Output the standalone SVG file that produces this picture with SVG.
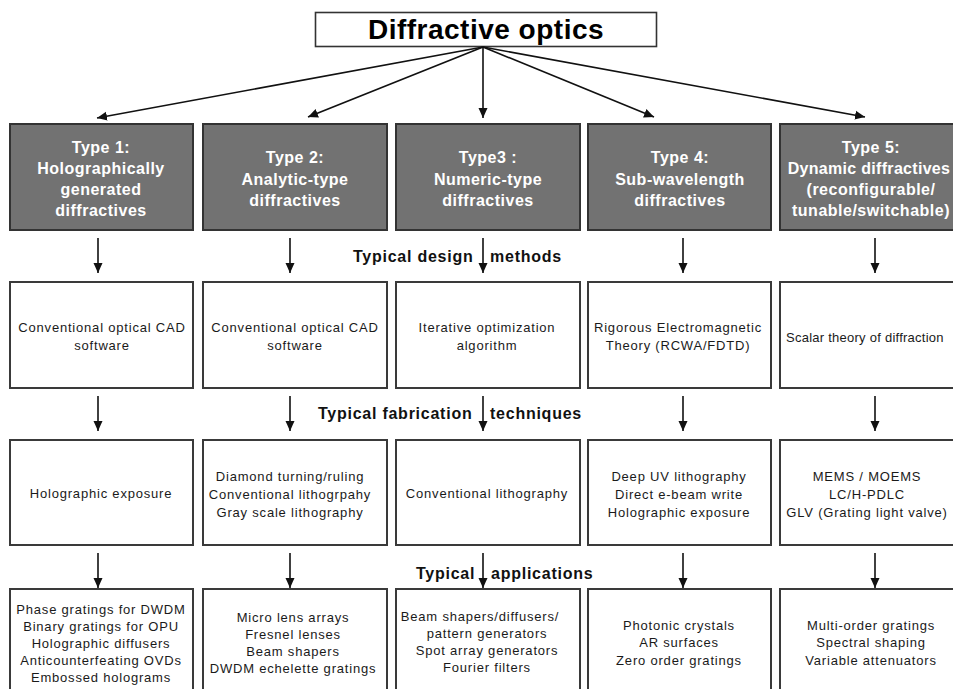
<svg xmlns="http://www.w3.org/2000/svg" width="953" height="689" viewBox="0 0 953 689">
<defs>
<marker id="ah" markerUnits="userSpaceOnUse" markerWidth="10" markerHeight="10" refX="10" refY="4.5" orient="auto" viewBox="0 0 10 9">
<path d="M0,0 L10,4.5 L0,9 z" fill="#111"/>
</marker>
</defs>
<style>
.gb{fill:#727272;stroke:#333;stroke-width:2}
.wb{fill:#fff;stroke:#3a3a3a;stroke-width:2}
.gt{font-family:"Liberation Sans",Arial,sans-serif;font-weight:bold;font-size:16px;letter-spacing:0.5px;fill:#fff;text-anchor:middle}
.wt{font-family:"Liberation Sans",Arial,sans-serif;font-size:13px;letter-spacing:0.8px;fill:#1a1a1a;text-anchor:middle}
.lb{font-family:"Liberation Sans",Arial,sans-serif;font-weight:bold;font-size:16px;letter-spacing:0.75px;fill:#111}
.ttl{font-family:"Liberation Sans",Arial,sans-serif;font-weight:bold;font-size:28px;letter-spacing:0.5px;fill:#000;text-anchor:middle}
.c{stroke:#111;stroke-width:1.6;fill:none;marker-end:url(#ah)}
</style>
<rect width="953" height="689" fill="#fff"/>

<g id="title">
<rect x="315.5" y="12.5" width="341" height="34" fill="#fff" stroke="#333" stroke-width="1.6"/>
<text class="ttl" x="486" y="39">Diffractive optics</text>
</g>

<g id="type1">
<rect class="gb" x="10" y="124" width="183" height="106"/>
<text class="gt" x="101" y="153">Type 1:</text>
<text class="gt" x="101" y="174">Holographically</text>
<text class="gt" x="101" y="195">generated</text>
<text class="gt" x="101" y="216">diffractives</text>
</g>
<g id="type2">
<rect class="gb" x="203" y="124" width="184" height="106"/>
<text class="gt" x="295" y="163">Type 2:</text>
<text class="gt" x="295" y="185">Analytic-type</text>
<text class="gt" x="295" y="206">diffractives</text>
</g>
<g id="type3">
<rect class="gb" x="396" y="124" width="184" height="106"/>
<text class="gt" x="488" y="163">Type3 :</text>
<text class="gt" x="488" y="185">Numeric-type</text>
<text class="gt" x="488" y="206">diffractives</text>
</g>
<g id="type4">
<rect class="gb" x="588" y="124" width="183" height="106"/>
<text class="gt" x="680" y="163">Type 4:</text>
<text class="gt" x="680" y="185">Sub-wavelength</text>
<text class="gt" x="680" y="206">diffractives</text>
</g>
<g id="type5">
<rect class="gb" x="780" y="124" width="190" height="106"/>
<text class="gt" x="871" y="153">Type 5:</text>
<text class="gt" x="869" y="174" style="letter-spacing:0.3px">Dynamic diffractives</text>
<text class="gt" x="871" y="195">(reconfigurable/</text>
<text class="gt" x="871" y="216">tunable/switchable)</text>
</g>

<g id="design1">
<rect class="wb" x="10" y="282" width="183" height="106"/>
<text class="wt" x="102" y="332">Conventional optical CAD</text>
<text class="wt" x="102" y="350">software</text>
</g>
<g id="design2">
<rect class="wb" x="203" y="282" width="184" height="106"/>
<text class="wt" x="295" y="332">Conventional optical CAD</text>
<text class="wt" x="295" y="350">software</text>
</g>
<g id="design3">
<rect class="wb" x="396" y="282" width="184" height="106"/>
<text class="wt" x="487" y="332">Iterative optimization</text>
<text class="wt" x="487" y="350">algorithm</text>
</g>
<g id="design4">
<rect class="wb" x="588" y="282" width="183" height="106"/>
<text class="wt" x="678" y="332">Rigorous Electromagnetic</text>
<text class="wt" x="678" y="350">Theory (RCWA/FDTD)</text>
</g>
<g id="design5">
<rect class="wb" x="780" y="282" width="190" height="106"/>
<text class="wt" x="786" y="342" style="text-anchor:start;letter-spacing:0.25px">Scalar theory of diffraction</text>
</g>

<g id="fab1">
<rect class="wb" x="10" y="440" width="183" height="105"/>
<text class="wt" x="101" y="498">Holographic exposure</text>
</g>
<g id="fab2">
<rect class="wb" x="203" y="440" width="184" height="105"/>
<text class="wt" x="290" y="481">Diamond turning/ruling</text>
<text class="wt" x="290" y="499">Conventional lithogrpahy</text>
<text class="wt" x="290" y="517">Gray scale lithography</text>
</g>
<g id="fab3">
<rect class="wb" x="396" y="440" width="184" height="105"/>
<text class="wt" x="487" y="498">Conventional lithography</text>
</g>
<g id="fab4">
<rect class="wb" x="588" y="440" width="183" height="105"/>
<text class="wt" x="679" y="481">Deep UV lithography</text>
<text class="wt" x="679" y="499">Direct e-beam write</text>
<text class="wt" x="679" y="517">Holographic exposure</text>
</g>
<g id="fab5">
<rect class="wb" x="780" y="440" width="190" height="105"/>
<text class="wt" x="867" y="481">MEMS / MOEMS</text>
<text class="wt" x="867" y="499">LC/H-PDLC</text>
<text class="wt" x="867" y="517">GLV (Grating light valve)</text>
</g>

<g id="app1">
<rect class="wb" x="10" y="589" width="183" height="110"/>
<text class="wt" x="101" y="614">Phase gratings for DWDM</text>
<text class="wt" x="101" y="631">Binary gratings for OPU</text>
<text class="wt" x="101" y="648">Holographic diffusers</text>
<text class="wt" x="101" y="665">Anticounterfeating OVDs</text>
<text class="wt" x="101" y="682">Embossed holograms</text>
</g>
<g id="app2">
<rect class="wb" x="203" y="589" width="184" height="110"/>
<text class="wt" x="293" y="622">Micro lens arrays</text>
<text class="wt" x="293" y="639">Fresnel lenses</text>
<text class="wt" x="293" y="656">Beam shapers</text>
<text class="wt" x="293" y="673">DWDM echelette gratings</text>
</g>
<g id="app3">
<rect class="wb" x="396" y="589" width="184" height="110"/>
<text class="wt" x="480" y="621">Beam shapers/diffusers/</text>
<text class="wt" x="487" y="638">pattern generators</text>
<text class="wt" x="487" y="655">Spot array generators</text>
<text class="wt" x="487" y="672">Fourier filters</text>
</g>
<g id="app4">
<rect class="wb" x="588" y="589" width="183" height="110"/>
<text class="wt" x="679" y="630">Photonic crystals</text>
<text class="wt" x="679" y="647">AR surfaces</text>
<text class="wt" x="679" y="665">Zero order gratings</text>
</g>
<g id="app5">
<rect class="wb" x="780" y="589" width="190" height="110"/>
<text class="wt" x="871" y="630">Multi-order gratings</text>
<text class="wt" x="871" y="647">Spectral shaping</text>
<text class="wt" x="871" y="665">Variable attenuators</text>
</g>

<g id="labels">
<text class="lb" x="353" y="262">Typical design</text>
<text class="lb" x="490" y="262">methods</text>
<text class="lb" x="318" y="419">Typical fabrication</text>
<text class="lb" x="490" y="419">techniques</text>
<text class="lb" x="416" y="579">Typical</text>
<text class="lb" x="491" y="579">applications</text>
</g>

<g id="connectors">
<line class="c" x1="483" y1="47" x2="97" y2="118"/>
<line class="c" x1="483" y1="47" x2="308" y2="117"/>
<line class="c" x1="483" y1="47" x2="483" y2="118"/>
<line class="c" x1="483" y1="47" x2="654" y2="117"/>
<line class="c" x1="483" y1="47" x2="865" y2="117"/>

<line class="c" x1="98" y1="238" x2="98" y2="273"/>
<line class="c" x1="290" y1="238" x2="290" y2="273"/>
<line class="c" x1="483" y1="238" x2="483" y2="273"/>
<line class="c" x1="683" y1="238" x2="683" y2="273"/>
<line class="c" x1="875" y1="238" x2="875" y2="273"/>

<line class="c" x1="98" y1="396" x2="98" y2="431"/>
<line class="c" x1="290" y1="396" x2="290" y2="431"/>
<line class="c" x1="483" y1="396" x2="483" y2="431"/>
<line class="c" x1="683" y1="396" x2="683" y2="431"/>
<line class="c" x1="875" y1="396" x2="875" y2="431"/>

<line class="c" x1="98" y1="553" x2="98" y2="588"/>
<line class="c" x1="290" y1="553" x2="290" y2="588"/>
<line class="c" x1="483" y1="553" x2="483" y2="588"/>
<line class="c" x1="683" y1="553" x2="683" y2="588"/>
<line class="c" x1="875" y1="553" x2="875" y2="588"/>
</g>
</svg>
